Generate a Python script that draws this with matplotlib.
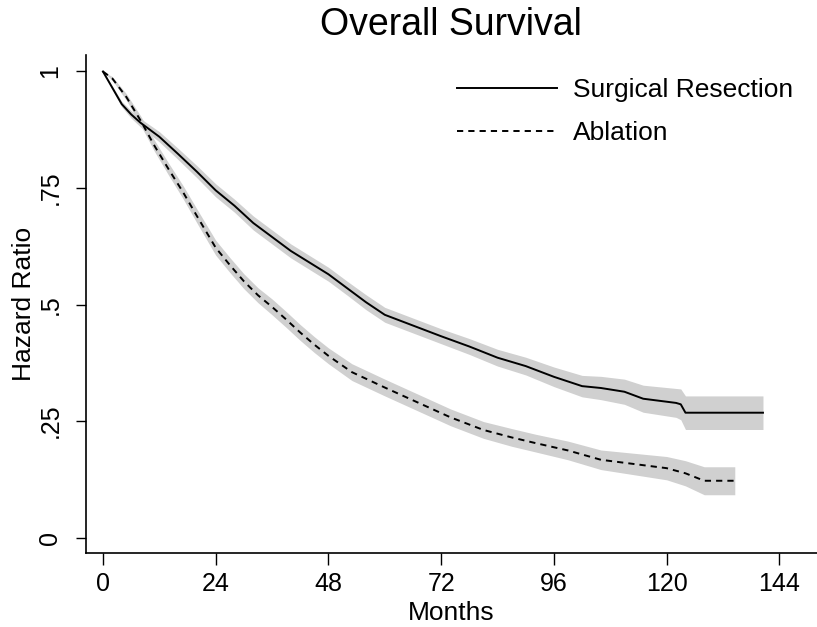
#Overall Survival - Kaplan-Meier style curves with confidence bands
import numpy as np
import matplotlib.pyplot as plt

#Surgical resection curve (months, survival, half width of band)
surg_t = [0, 2, 4, 6, 8, 12, 16, 20, 24, 28, 32, 36, 40, 44, 48, 52, 56, 60, 66, 72, 78, 84, 90, 96, 102, 106, 111,
          115, 122, 123, 124, 140.5]
surg_s = [1.0, 0.965, 0.93, 0.908, 0.89, 0.86, 0.823, 0.785, 0.745, 0.712, 0.675, 0.645, 0.615, 0.59, 0.565, 0.535,
          0.505, 0.478, 0.455, 0.432, 0.41, 0.386, 0.368, 0.345, 0.325, 0.321, 0.313, 0.298, 0.289, 0.286, 0.268, 0.268]
surg_ci = [0.0, 0.004, 0.006, 0.008, 0.009, 0.011, 0.012, 0.013, 0.014, 0.014, 0.015, 0.015, 0.015, 0.015, 0.015,
           0.015, 0.016, 0.016, 0.016, 0.016, 0.017, 0.018, 0.019, 0.021, 0.023, 0.025, 0.027, 0.029, 0.031, 0.033,
           0.036, 0.036]

#Ablation curve
abl_t = [0, 2, 5, 8, 11, 14, 17, 20, 24, 27, 30, 33, 36, 39, 42, 45, 48, 53, 60, 67, 74, 81, 87, 92, 99, 106, 113,
         120, 124, 128, 134.5]
abl_s = [1.0, 0.985, 0.945, 0.895, 0.84, 0.79, 0.742, 0.69, 0.622, 0.585, 0.55, 0.52, 0.495, 0.468, 0.44, 0.414,
         0.39, 0.355, 0.322, 0.29, 0.258, 0.231, 0.215, 0.203, 0.187, 0.167, 0.158, 0.149, 0.138, 0.122, 0.122]
abl_ci = [0.0, 0.004, 0.007, 0.01, 0.012, 0.013, 0.014, 0.015, 0.016, 0.016, 0.016, 0.016, 0.017, 0.017, 0.017,
          0.017, 0.017, 0.018, 0.018, 0.018, 0.018, 0.018, 0.019, 0.019, 0.02, 0.021, 0.023, 0.025, 0.027, 0.03, 0.03]

x_ticks = [0, 24, 48, 72, 96, 120, 144]
y_ticks = [0, 0.25, 0.5, 0.75, 1]
y_labels = ['0', '.25', '.5', '.75', '1']

plt.rcParams['font.family'] = ['Liberation Sans', 'DejaVu Sans']

fig = plt.figure(figsize=(8.17, 6.27), dpi=100)
ax = fig.add_axes([0.1053, 0.118, 0.8947, 0.794])

band = '#d0d0d0'
for t, s, ci in [(surg_t, surg_s, surg_ci), (abl_t, abl_s, abl_ci)]:
    t = np.array(t); s = np.array(s); ci = np.array(ci)
    ax.fill_between(t, s - ci, s + ci, color=band, linewidth=0)

ax.plot(surg_t, surg_s, color='black', lw=1.4, label='Surgical Resection')
ax.plot(abl_t, abl_s, color='black', lw=1.4, linestyle=(0, (3.2, 2.6)), label='Ablation')

ax.set_xlim(-3.6, 152)
ax.set_ylim(-0.033, 1.035)
ax.set_xticks(x_ticks)
ax.set_yticks(y_ticks)
ax.set_yticklabels(y_labels, rotation=90, va='center')
ax.tick_params(axis='x', labelsize=18, length=8.5, width=1, pad=5)
ax.tick_params(axis='y', labelsize=18, length=7, width=1, pad=10)
ax.spines['top'].set_visible(False)
ax.spines['right'].set_visible(False)
ax.spines['left'].set_linewidth(1.2)
ax.spines['bottom'].set_linewidth(1.2)

ax.set_xlabel('Months', fontsize=19, labelpad=4)
ax.set_ylabel('Hazard Ratio', fontsize=19, labelpad=2)
fig.text(0.552, 0.96, 'Overall Survival', fontsize=27, ha='center', va='center')

ax.legend(loc='upper left', bbox_to_anchor=(457 / 817, 1 - 78 / 627), bbox_transform=fig.transFigure,
          frameon=False, fontsize=19, handlelength=3.8, handletextpad=0.6, borderpad=0, borderaxespad=0,
          labelspacing=0.72)

plt.savefig('out.png', dpi=100)
